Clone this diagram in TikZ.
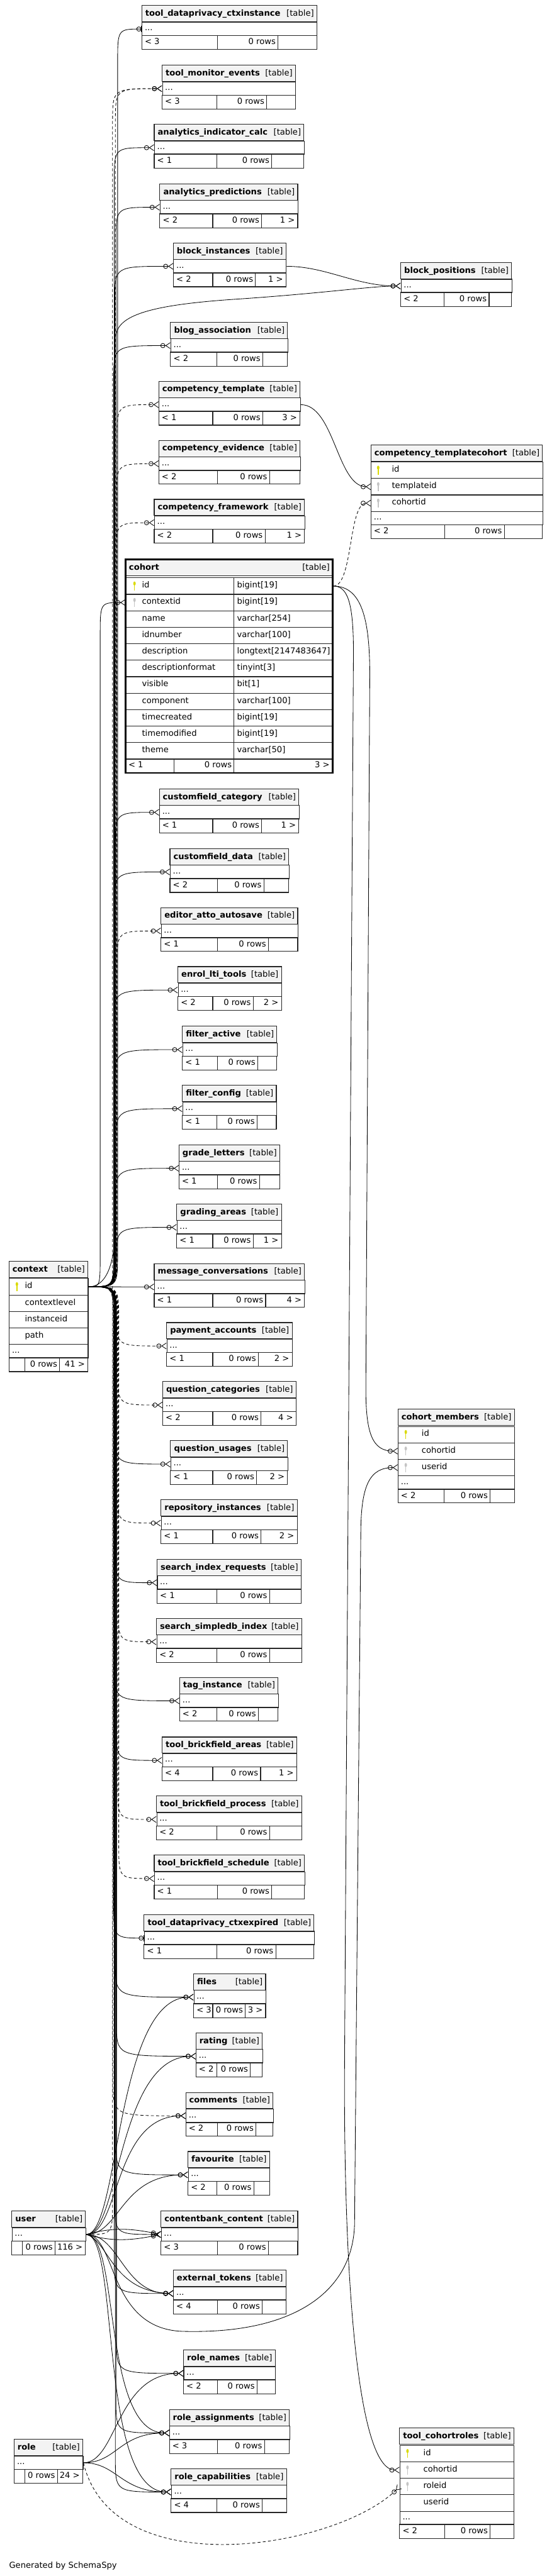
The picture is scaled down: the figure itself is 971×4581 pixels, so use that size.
\documentclass[tikz,border=0pt]{standalone}
\usepackage{fontspec}
\setmainfont{DejaVu Sans}
\usetikzlibrary{arrows.meta,calc}
\definecolor{hdrgray}{HTML}{F3F3F3}
\definecolor{pkyellow}{HTML}{DADA00}
\definecolor{fkgray}{HTML}{C4C4C4}

\tikzset{
  pics/key/.style={code={
    \fill (0,-4) ellipse [x radius=2.2,y radius=3.6];
    \draw[line width=1.2pt] (0,-2) -- (0,8.5);
  }},
}

% table pieces (units are px of the schema picture)
\newcommand{\tabhead}[5]{%
  \filldraw[tabline,fill=hdrgray] (#2,#3) rectangle (#4,#3+29);
  \node[lefttext] (#1-name) at (#2+6,#3+15) {\bfseries #5};
  \node[righttext] (#1-kind) at (#4-5,#3+15) {[table]};
}
\newcommand{\colrow}[7]{%
  \node[cell,minimum width={(#4-#2)*0.75pt},minimum height={(#5)*0.75pt},anchor=north west] (#1) at (#2,#3) {};
  \node[lefttext] (#1-t) at (#7,#3+#5/2) {#6};
}
\newcommand{\tabfoot}[8]{%
  \draw[tabline] (#2,#3) rectangle (#4,#3+25) (#5,#3) -- (#5,#3+25) (#6,#3) -- (#6,#3+25);
  \node[lefttext] (#1-in) at (#2+5,#3+12.5) {#7};
  \node[righttext] (#1-rows) at (#6-4,#3+12.5) {0 rows};
  \node[righttext] (#1-out) at (#4-5,#3+12.5) {#8};
}
\newcommand{\smalltab}[9]{%
  \tabhead{#1}{#2}{#3}{#4}{#5}
  \colrow{#1}{#2}{#3+29}{#4}{24}{...}{#2+5}
  \tabfoot{#1}{#2}{#3+53}{#4}{#8}{#9}{#6}{#7}
}

\begin{document}
\begin{tikzpicture}[x=0.75pt,y=-0.75pt,
  every node/.style={font=\fontsize{11}{13}\selectfont,inner sep=0pt,text height=8pt,text depth=2.4pt},
  tabline/.style={draw=black!85,line width=0.9pt},
  cell/.style={tabline,rectangle,inner sep=0pt,text height=,text depth=},
  lefttext/.style={anchor=west},
  righttext/.style={anchor=east},
  fk/.style={line width=0.7pt,-{Circle[open,length=6.5pt,width=6.5pt]Straight Barb[reversed,length=6pt,width=8pt]}},
  fkone/.style={line width=0.7pt,-{Circle[open,length=6.5pt,width=6.5pt]Bar[width=8pt]}},
  implied/.style={fk,dash pattern=on 4pt off 3pt},
  bus/.style={to path={let \p1=(\tikztostart),\p2=(\tikztotarget),
      \n2={ifthenelse((\y2)>(\y1),1,-1)*min(45,abs((\y2)-(\y1))/2)} in
      .. controls ({#1*0.75pt},\y1) .. ({#1*0.75pt},{\y1+(\n2)*1pt})
      -- ({#1*0.75pt},{\y2-(\n2)*1pt})
      .. controls ({#1*0.75pt},\y2) .. (\tikztotarget)}}
]
\fill[white] (0,0) rectangle (971,4581);
\useasboundingbox (0,0) rectangle (971,4581);

% tables along the middle column
\smalltab{tdci}{252}{10}{563}{tool\_dataprivacy\_ctxinstance}{< 3}{}{386}{494}
\smalltab{tme}{288}{116}{525}{tool\_monitor\_events}{< 3}{}{385}{474}
\smalltab{aic}{274}{221}{540}{analytics\_indicator\_calc}{< 1}{}{385}{483}
\smalltab{ap}{284}{327}{529}{analytics\_predictions}{< 2}{1 >}{378}{465}
\smalltab{bi}{308}{432}{508}{block\_instances}{< 2}{1 >}{378}{454}
\smalltab{ba}{303}{573}{511}{blog\_association}{< 2}{}{385}{467}
\smalltab{ct}{282}{678}{533}{competency\_template}{< 1}{3 >}{378}{467}
\smalltab{ce}{282}{783}{533}{competency\_evidence}{< 2}{}{386}{479}
\smalltab{cf}{274}{888}{541}{competency\_framework}{< 2}{1 >}{378}{471}
\smalltab{cfc}{283}{1403}{531}{customfield\_category}{< 1}{1 >}{378}{465}
\smalltab{cfd}{302}{1509}{513}{customfield\_data}{< 2}{}{386}{469}
\smalltab{eaa}{286}{1614}{529}{editor\_atto\_autosave}{< 1}{}{386}{477}
\smalltab{elt}{316}{1719}{500}{enrol\_lti\_tools}{< 2}{2 >}{378}{450}
\smalltab{fa}{324}{1825}{492}{filter\_active}{< 1}{}{386}{458}
\smalltab{fc}{324}{1930}{491}{filter\_config}{< 1}{}{385}{457}
\smalltab{gl}{318}{2036}{497}{grade\_letters}{< 1}{}{386}{461}
\smalltab{ga}{314}{2141}{500}{grading\_areas}{< 1}{1 >}{378}{450}
\smalltab{mc}{274}{2247}{541}{message\_conversations}{< 1}{4 >}{378}{472}
\smalltab{pa}{296}{2352}{519}{payment\_accounts}{< 1}{2 >}{378}{459}
\smalltab{qc}{289}{2457}{526}{question\_categories}{< 2}{4 >}{378}{464}
\smalltab{qu}{303}{2562}{511}{question\_usages}{< 1}{2 >}{378}{456}
\smalltab{ri}{286}{2667}{528}{repository\_instances}{< 1}{2 >}{378}{464}
\smalltab{sir}{279}{2773}{535}{search\_index\_requests}{< 1}{}{385}{479}
\smalltab{ssi}{278}{2878}{536}{search\_simpledb\_index}{< 2}{}{385}{479}
\smalltab{ti}{319}{2983}{494}{tag\_instance}{< 2}{}{385}{459}
\smalltab{tba}{288}{3089}{527}{tool\_brickfield\_areas}{< 4}{1 >}{378}{463}
\smalltab{tbp}{278}{3194}{536}{tool\_brickfield\_process}{< 2}{}{385}{479}
\smalltab{tbs}{274}{3299}{541}{tool\_brickfield\_schedule}{< 1}{}{386}{483}
\smalltab{tdce}{256}{3405}{558}{tool\_dataprivacy\_ctxexpired}{< 1}{}{385}{490}
\smalltab{files}{344}{3510}{472}{files}{< 3}{3 >}{378}{436}
\smalltab{rating}{348}{3615}{466}{rating}{< 2}{}{385}{445}
\smalltab{comm}{330}{3721}{485}{comments}{< 2}{}{386}{455}
\smalltab{fav}{334}{3826}{479}{favourite}{< 2}{}{385}{451}
\smalltab{cbc}{286}{3932}{529}{contentbank\_content}{< 3}{}{386}{477}
\smalltab{et}{308}{4037}{508}{external\_tokens}{< 4}{}{386}{466}
\smalltab{rn}{326}{4179}{489}{role\_names}{< 2}{}{386}{457}
\smalltab{ra}{301}{4285}{514}{role\_assignments}{< 3}{}{386}{470}
\smalltab{rc}{304}{4390}{509}{role\_capabilities}{< 4}{}{385}{466}

% left column
\smalltab{user}{21}{3932}{152}{user}{}{116 >}{40}{98}
\smalltab{role}{25}{4338}{147}{role}{}{24 >}{44}{102}

\tabhead{ctx}{16}{2243}{156}{context}
\foreach \lab [count=\i from 0] in {id,contextlevel,instanceid,path}
  {\colrow{ctx-\lab}{16}{2273+29.3*\i}{156}{29.3}{\lab}{44}}
\colrow{ctx-more}{16}{2390.2}{156}{24}{...}{21}
\tabfoot{ctx}{16}{2414.2}{156}{44}{106}{}{41 >}
\pic[color=pkyellow] (ctx-key) at (30,2287.65) {key};

% cohort
\tabhead{cohort}{223}{995}{591}{cohort}
\foreach \lab/\typ [count=\i from 0] in {id/bigint[19],contextid/bigint[19],name/varchar[254],idnumber/varchar[100],description/longtext[2147483647],descriptionformat/tinyint[3],visible/bit[1],component/varchar[100],timecreated/bigint[19],timemodified/bigint[19],theme/varchar[50]}{
  \colrow{cohort-\lab}{223}{1027+29.3*\i}{591}{29.3}{\lab}{252}
  \node[lefttext] (cohort-\lab-type) at (421,1041.65+29.3*\i) {\typ};
}
\draw[tabline] (416,1027) -- (416,1349);
\tabfoot{cohort}{223}{1349.3}{591}{309}{416}{< 1}{3 >}
\draw[line width=2.2pt] (223,995) rectangle (591,1374.3);
\pic[color=pkyellow] (cohort-key1) at (239,1041.65) {key};
\pic[color=fkgray] (cohort-key2) at (239,1070.95) {key};

% right column
\smalltab{bp}{712}{467}{909}{block\_positions}{< 2}{}{789}{869}

\tabhead{ctc}{659}{791}{964}{competency\_templatecohort}
\colrow{ctc-id}{659}{821}{964}{29.3}{id}{696}
\colrow{ctc-templateid}{659}{850.3}{964}{29.3}{templateid}{696}
\colrow{ctc-cohortid}{659}{879.6}{964}{29.3}{cohortid}{696}
\colrow{ctc-more}{659}{908.9}{964}{24}{...}{664}
\tabfoot{ctc}{659}{932.9}{964}{790}{896}{< 2}{}
\pic[color=pkyellow] (ctc-key1) at (672,835.65) {key};
\pic[color=fkgray] (ctc-key2) at (672,864.95) {key};
\pic[color=fkgray] (ctc-key3) at (672,894.25) {key};

\tabhead{cm}{707}{2506}{914}{cohort\_members}
\colrow{cm-id}{707}{2536}{914}{29.3}{id}{749}
\colrow{cm-cohortid}{707}{2565.3}{914}{29.3}{cohortid}{749}
\colrow{cm-userid}{707}{2594.6}{914}{29.3}{userid}{749}
\colrow{cm-more}{707}{2623.9}{914}{24}{...}{712}
\tabfoot{cm}{707}{2647.9}{914}{789}{871}{< 2}{}
\pic[color=pkyellow] (cm-key1) at (721,2550.65) {key};
\pic[color=fkgray] (cm-key2) at (721,2579.95) {key};
\pic[color=fkgray] (cm-key3) at (721,2609.25) {key};

\tabhead{tcr}{710}{4318}{913}{tool\_cohortroles}
\colrow{tcr-id}{710}{4348}{913}{29.3}{id}{752}
\colrow{tcr-cohortid}{710}{4377.3}{913}{29.3}{cohortid}{752}
\colrow{tcr-roleid}{710}{4406.6}{913}{29.3}{roleid}{752}
\colrow{tcr-userid}{710}{4435.9}{913}{29.3}{userid}{752}
\colrow{tcr-more}{710}{4465.2}{913}{24}{...}{715}
\tabfoot{tcr}{710}{4489.2}{913}{790}{871}{< 2}{}
\pic[color=pkyellow] (tcr-key1) at (724,4362.65) {key};
\pic[color=fkgray] (tcr-key2) at (724,4391.95) {key};
\pic[color=fkgray] (tcr-key3) at (724,4421.25) {key};

\node[lefttext] (credit) at (16,4563) {Generated by SchemaSpy};

% context fan
\draw[fkone] (ctx-id.east) to[bus=209] (tdci.west);
\draw[implied] (ctx-id.east) to[bus=205] (tme.west);
\draw[fk] (ctx-id.east) to[bus=203] (aic.west);
\draw[fk] (ctx-id.east) to[bus=206] (ap.west);
\draw[fk] (ctx-id.east) to[bus=204] (bi.west);
\draw[fk] (ctx-id.east) .. controls +(45,0) and +(0,60) .. (206,2150) -- (206,600)
  .. controls +(0,-40) and +(-150,10) .. (420,532) .. controls +(150,-10) and +(-50,0) .. (bp.west);
\draw[fk] (ctx-id.east) to[bus=202] (ba.west);
\draw[implied] (ctx-id.east) to[bus=208] (ct.west);
\draw[implied] (ctx-id.east) to[bus=207] (ce.west);
\draw[implied] (ctx-id.east) to[bus=206] (cf.west);
\draw[fk] (ctx-id.east) to[bus=178] (cohort-contextid.west);
\draw[fk] (ctx-id.east) to[bus=205] (cfc.west);
\draw[fk] (ctx-id.east) to[bus=203] (cfd.west);
\draw[implied] (ctx-id.east) to[bus=208] (eaa.west);
\draw[fk] (ctx-id.east) to[bus=202] (elt.west);
\draw[fk] (ctx-id.east) to[bus=204] (fa.west);
\draw[fk] (ctx-id.east) to[bus=206] (fc.west);
\draw[fk] (ctx-id.east) to[bus=205] (gl.west);
\draw[fk] (ctx-id.east) to[bus=207] (ga.west);
\draw[fk] (ctx-id.east) -- (mc.west);
\draw[implied] (ctx-id.east) to[bus=207] (pa.west);
\draw[implied] (ctx-id.east) to[bus=209] (qc.west);
\draw[fk] (ctx-id.east) to[bus=204] (qu.west);
\draw[implied] (ctx-id.east) to[bus=208] (ri.west);
\draw[fk] (ctx-id.east) to[bus=205] (sir.west);
\draw[implied] (ctx-id.east) to[bus=210] (ssi.west);
\draw[fk] (ctx-id.east) to[bus=203] (ti.west);
\draw[fk] (ctx-id.east) to[bus=206] (tba.west);
\draw[implied] (ctx-id.east) to[bus=209] (tbp.west);
\draw[implied] (ctx-id.east) to[bus=211] (tbs.west);
\draw[fkone] (ctx-id.east) to[bus=202] (tdce.west);
\draw[fk] (ctx-id.east) to[bus=205] (files.west);
\draw[fk] (ctx-id.east) to[bus=207] (rating.west);
\draw[implied] (ctx-id.east) to[bus=201] (comm.west);
\draw[fk] (ctx-id.east) to[bus=206] (fav.west);
\draw[fk] (ctx-id.east) to[bus=204] (cbc.west);
\draw[fk] (ctx-id.east) to[bus=203] (et.west);
\draw[fk] (ctx-id.east) to[bus=207] (rn.west);
\draw[fk] (ctx-id.east) to[bus=206] (ra.west);
\draw[fk] (ctx-id.east) to[bus=205] (rc.west);

% user
\draw[implied] (user.east) to[bus=200] (tme.west);
\draw[fk] (user.east) .. controls +(60,0) and +(-140,0) .. (files.west);
\draw[fk] (user.east) .. controls +(60,0) and +(-140,0) .. (rating.west);
\draw[fk] (user.east) .. controls +(60,0) and +(-130,0) .. (comm.west);
\draw[fk] (user.east) .. controls +(60,0) and +(-120,0) .. (fav.west);
\draw[fk] (user.east) .. controls +(50,-14) and +(-50,-10) .. (cbc.west);
\draw[fk] (user.east) .. controls +(50,14) and +(-50,10) .. (cbc.west);
\draw[fk] (user.east) .. controls +(60,0) and +(-90,0) .. (et.west);
\draw[fk] (user.east) .. controls +(40,10) and +(-110,-4) .. (et.west);
\draw[fk] (user.east) .. controls +(60,0) and +(-120,0) .. (ra.west);
\draw[fk] (user.east) .. controls +(60,0) and +(-130,0) .. (rc.west);
\draw[fk] (user.east) .. controls +(55,0) and +(-140,0) .. (330,4146)
  .. controls +(200,4) and +(0,120) .. (630,3950) -- (641,2730)
  .. controls +(0,-90) and +(-50,0) .. (cm-userid.west);

% role
\draw[fk] (role.east) .. controls +(60,0) and +(-120,0) .. (rn.west);
\draw[fk] (role.east) .. controls +(60,0) and +(-90,0) .. (ra.west);
\draw[fk] (role.east) .. controls +(60,0) and +(-90,0) .. (rc.west);
\draw[implied] (role.east) .. controls +(53,220) and +(-110,109) .. (tcr-roleid.west);

% cohort and the rest
\draw[implied] (cohort-id.east) .. controls +(35,0) and +(-40,0) .. (ctc-cohortid.west);
\draw[fk] (cohort-id.east) .. controls +(50,0) and +(0,-100) .. (657,1200) -- (650,2470)
  .. controls +(0,80) and +(-45,0) .. (cm-cohortid.west);
\draw[fk] (cohort-id.east) .. controls +(25,0) and +(0,-90) .. (628,1160) -- (612,3700)
  .. controls +(0,400) and +(-70,0) .. (tcr-cohortid.west);
\draw[fk] (ct.east) .. controls +(60,0) and +(-60,0) .. (ctc-templateid.west);
\draw[fk] (bi.east) .. controls +(70,0) and +(-80,0) .. (bp.west);
\end{tikzpicture}
\end{document}
